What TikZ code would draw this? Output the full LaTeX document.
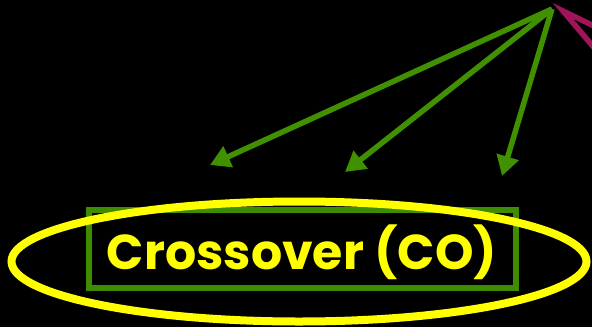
\documentclass[tikz,border=0pt]{standalone}
\usepackage{fontspec}
\setmainfont{Poppins}
\usetikzlibrary{arrows.meta,shapes.geometric}
\definecolor{arrgreen}{RGB}{64,144,0}
\definecolor{boxgreen}{RGB}{62,140,0}
\definecolor{ylw}{RGB}{255,255,0}
\definecolor{mag}{RGB}{160,20,90}
\tikzset{
  garrow/.style={draw=arrgreen, line width=5.5pt, -{Triangle[length=20pt,width=22pt]}},
  cobox/.style={draw=boxgreen, line width=6pt, minimum width=427pt, minimum height=78pt, inner sep=0pt},
  ring/.style={draw=ylw, line width=8pt, ellipse, minimum width=575pt, minimum height=120pt, inner sep=0pt},
  lbl/.style={text=ylw, font=\bfseries\fontsize{49}{56}\selectfont, inner sep=0pt}
}
\begin{document}
\begin{tikzpicture}[x=1pt,y=-1pt]
\fill[black] (0,0) rectangle (592,327);
\useasboundingbox (0,0) rectangle (592,327);
\node[cobox] (box) at (302.5,249) {};
\node[lbl] (txt) at (302,252) {Crossover (CO)};
\node[ring] (ell) at (299,261.5) {};
\coordinate (apex) at (552,9);
\coordinate (t1) at (210,165);
\coordinate (t2) at (345,172);
\coordinate (t3) at (502,176);
\draw[garrow] (apex) -- (t1);
\draw[garrow] (apex) -- (t2);
\draw[garrow] (apex) -- (t3);
\coordinate (m0) at (563,11);
\coordinate (m1) at (596,27);
\coordinate (m2) at (596,50);
\draw[mag, line width=5.5pt, line join=miter] (m1) -- (m0) -- (m2);
\end{tikzpicture}
\end{document}
